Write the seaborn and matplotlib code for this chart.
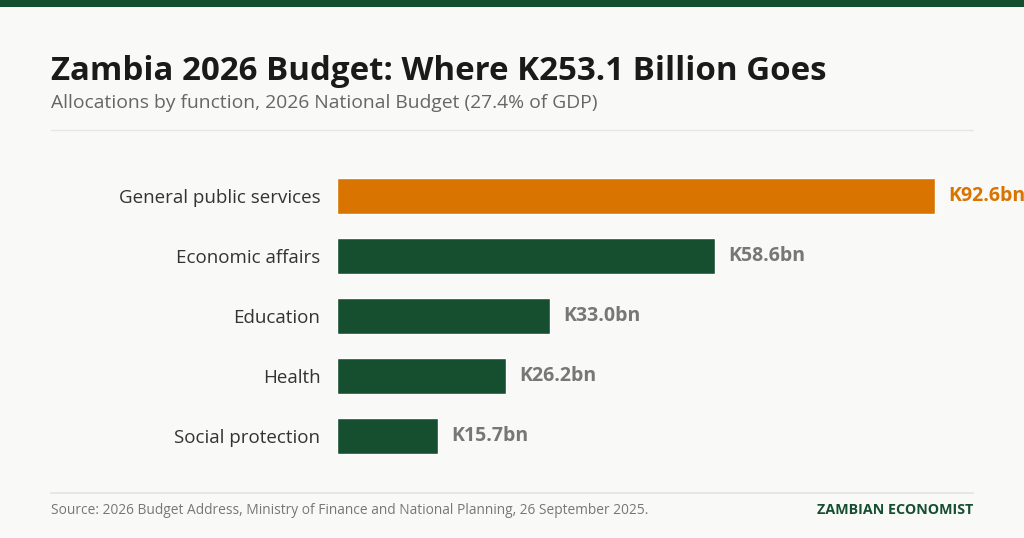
import matplotlib
matplotlib.use("Agg")
import matplotlib.pyplot as plt
import seaborn as sns
import pandas as pd

# Data
categorias = ["General public services", "Economic affairs", "Education",
              "Health", "Social protection"]
valores = [92.6, 58.6, 33.0, 26.2, 15.7]
rotulos = ["K92.6bn", "K58.6bn", "K33.0bn", "K26.2bn", "K15.7bn"]

laranja = "#D97400"
verde = "#154F30"
fundo = "#F9F9F7"
cores = [laranja] + [verde] * (len(categorias) - 1)

sns.set_style("white")
plt.rcParams["font.family"] = ["Open Sans", "DejaVu Sans"]

fig = plt.figure(figsize=(10.24, 5.38), dpi=100, facecolor=fundo)
ax = fig.add_axes([337 / 1024, (538 - 466) / 538, 636 / 1024, 300 / 538])
ax.set_facecolor(fundo)

df = pd.DataFrame({"cat": categorias, "val": valores})
sns.barplot(data=df, x="val", y="cat", hue="cat", palette=cores, orient="h",
            width=0.6, legend=False, ax=ax, saturation=1)

ax.set_xlim(0, 98.5)
ax.set_ylim(4.5, -0.5)
ax.set_xlabel("")
ax.set_ylabel("")
ax.set_xticks([])
ax.tick_params(axis="y", length=0, pad=12, labelsize=13.5, labelcolor="#333333")
sns.despine(ax=ax, left=True, bottom=True)

for i, (v, r) in enumerate(zip(valores, rotulos)):
    ax.text(v + 2.0, i, r, va="center", ha="left", fontsize=14, fontweight="bold",
            color=laranja if i == 0 else "#777777")

# Faixa superior
fig.add_artist(plt.Rectangle((0, 1 - 7 / 538), 1, 7 / 538, transform=fig.transFigure,
                             color=verde, lw=0))

# Titulos
fig.text(51 / 1024, 1 - 80 / 538, "Zambia 2026 Budget: Where K253.1 Billion Goes",
         fontsize=23.8, fontweight="bold", color="#1A1A1A", ha="left", va="baseline")
fig.text(51 / 1024, 1 - 108 / 538, "Allocations by function, 2026 National Budget (27.4% of GDP)",
         fontsize=13.9, color="#666666", ha="left", va="baseline")

# Linhas divisórias
fig.add_artist(plt.Line2D([51 / 1024, 973 / 1024], [1 - 130 / 538] * 2, color="#E6E6E4", lw=1))
fig.add_artist(plt.Line2D([51 / 1024, 973 / 1024], [1 - 493 / 538] * 2, color="#E6E6E4", lw=1.5))

# Rodapé
fig.text(51 / 1024, 1 - 514 / 538,
         "Source: 2026 Budget Address, Ministry of Finance and National Planning, 26 September 2025.",
         fontsize=9.9, color="#777777", ha="left", va="baseline")
fig.text(973 / 1024, 1 - 514 / 538, "ZAMBIAN ECONOMIST", fontsize=10.3, fontweight="bold",
         color=verde, ha="right", va="baseline")

fig.savefig("out.png", dpi=100, facecolor=fundo)
